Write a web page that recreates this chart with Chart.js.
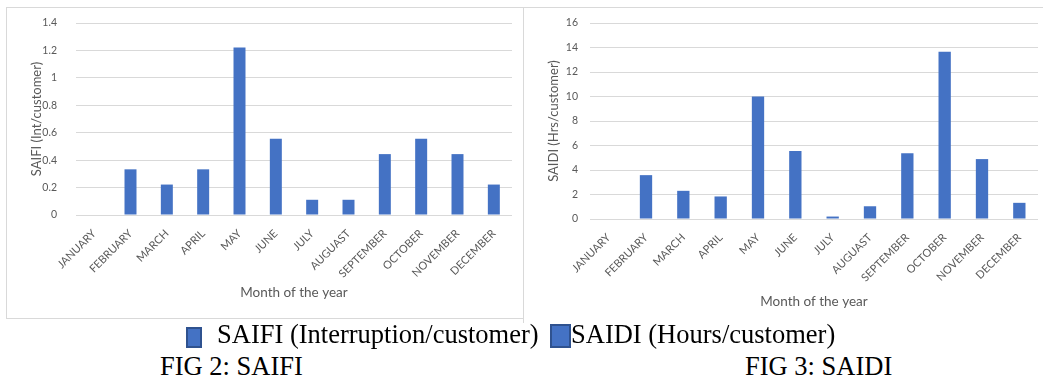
<!DOCTYPE html>
<html>
<head>
<meta charset="utf-8">
<script src="https://cdn.jsdelivr.net/npm/chart.js@4.4.1/dist/chart.umd.min.js"></script>
<style>
  html, body { margin: 0; padding: 0; background: #fff; }
  body { width: 1043px; height: 378px; position: relative; overflow: hidden; }
  .box { position: absolute; border: 1px solid #d9d9d9; box-sizing: border-box; background: #fff; }
  #boxL { left: 6px; top: 7px; width: 518px; height: 312px; }
  #boxR { left: 523px; top: 7px; width: 522px; height: 316px; border-bottom: none; }
  canvas { position: absolute; left: 0; top: 0; }
  .serif { position: absolute; font-family: "Liberation Serif", "Times New Roman", serif; font-size: 26.5px; line-height: 26px; color: #000; white-space: nowrap; }
  .swatch { position: absolute; background: #4472c4; border: 2px solid #2f528f; box-sizing: border-box; }
</style>
</head>
<body>
<div class="box" id="boxL"><canvas id="saifiChart" width="516" height="310"></canvas></div>
<div class="box" id="boxR"><canvas id="saidiChart" width="520" height="314"></canvas></div>

<div class="swatch" style="left:186px; top:327px; width:16px; height:21px;"></div>
<div class="serif" style="left:217px; top:321px;">SAIFI (Interruption/customer)</div>
<div class="swatch" style="left:550px; top:324px; width:21px; height:24px;"></div>
<div class="serif" style="left:571px; top:321px;">SAIDI (Hours/customer)</div>
<div class="serif" style="left:160px; top:353px;">FIG 2: SAIFI</div>
<div class="serif" style="left:745px; top:353px;">FIG 3: SAIDI</div>

<script>
// Monthly reliability indices
const months = ['JANUARY', 'FEBRUARY', 'MARCH', 'APRIL', 'MAY', 'JUNE', 'JULY',
                'AUGUAST', 'SEPTEMBER', 'OCTOBER', 'NOVEMBER', 'DECEMBER'];
const saifiValues = [0, 0.333, 0.222, 0.333, 1.222, 0.556, 0.111, 0.111, 0.444, 0.556, 0.444, 0.222];
const saidiValues = [0, 3.58, 2.3, 1.84, 10.0, 5.55, 0.2, 1.04, 5.36, 13.65, 4.89, 1.32];
const saifiTicks = [0, 0.2, 0.4, 0.6, 0.8, 1, 1.2, 1.4];
const saidiTicks = [0, 2, 4, 6, 8, 10, 12, 14, 16];

Chart.defaults.font.family = 'Lato, "Open Sans", sans-serif';
Chart.defaults.color = '#595959';

function makeChart(canvasId, values, ticks, yTitle, geom) {
  return new Chart(document.getElementById(canvasId), {
    type: 'bar',
    data: {
      labels: months,
      datasets: [{
        data: values,
        backgroundColor: '#4472c4',
        borderWidth: 0,
        barPercentage: 0.33,
        categoryPercentage: 1
      }]
    },
    options: {
      responsive: false,
      animation: false,
      devicePixelRatio: 1,
      layout: { padding: { top: geom.top, right: geom.right, left: 0, bottom: 0 } },
      plugins: { legend: { display: false }, tooltip: { enabled: false } },
      scales: {
        x: {
          grid: { display: false },
          border: { display: false },
          ticks: { minRotation: 45, maxRotation: 45, autoSkip: false, padding: 4, font: { size: 11 } },
          title: { display: true, text: 'Month of the year', font: { size: 13.5 }, padding: { top: 0, bottom: geom.xTitlePad } },
          afterFit: (s) => { s.height = geom.xHeight; }
        },
        y: {
          min: ticks[0],
          max: ticks[ticks.length - 1],
          afterBuildTicks: (s) => { s.ticks = ticks.map(v => ({ value: v })); },
          grid: { color: '#d9d9d9', lineWidth: 1, drawTicks: false },
          border: { display: false },
          ticks: { padding: geom.yPad, font: { size: 10.5 }, callback: (v) => String(v) },
          title: { display: true, text: yTitle, font: { size: 13 }, padding: { top: 22, bottom: 0 } },
          afterFit: (s) => {
            // fixed axis width; the tick padding should not push the plot down
            s.width = geom.yWidth;
            s.paddingTop = 0;
            s.paddingBottom = 0;
          }
        }
      }
    }
  });
}

makeChart('saifiChart', saifiValues, saifiTicks, 'SAIFI (Int/customer)',
  { top: 15, right: 11, xHeight: 103, xTitlePad: 17, yPad: 19, yWidth: 69 });
makeChart('saidiChart', saidiValues, saidiTicks, 'SAIDI (Hrs/customer)',
  { top: 15, right: 6, xHeight: 103, xTitlePad: 12, yPad: 12, yWidth: 66 });
</script>
</body>
</html>
